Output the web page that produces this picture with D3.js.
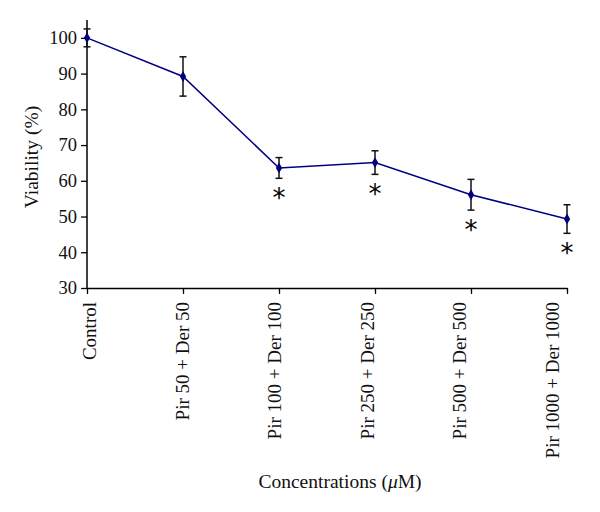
<!DOCTYPE html>
<html><head><meta charset="utf-8">
<script src="https://cdn.jsdelivr.net/npm/d3@7"></script>
<style>body{margin:0;background:#fff}svg{display:block}</style>
</head><body>
<script>
const categories = ["Control","Pir 50 + Der 50","Pir 100 + Der 100","Pir 250 + Der 250","Pir 500 + Der 500","Pir 1000 + Der 1000"];
const viability = [100, 89.2, 63.6, 65.1, 56.1, 49.3];
const errors = [2.5, 5.5, 2.9, 3.3, 4.3, 4.0];
const significant = [false, false, true, true, true, true];
const yTicks = [30,40,50,60,70,80,90,100];

const W=600,H=512;
const svg=d3.select("body").append("svg").attr("width",W).attr("height",H);
const font="'Liberation Serif', 'DejaVu Serif', serif";
const x=d3.scalePoint().domain(categories).range([87,567]);
const xLab=d3.scalePoint().domain(categories).range([89.5,552.5]);
const y=d3.scaleLinear().domain([30,105]).range([288,20]);

const yAxis=svg.append("g").attr("transform","translate(87,0)")
  .call(d3.axisLeft(y).tickValues(yTicks).tickSize(6).tickSizeOuter(0).tickPadding(4));
const xAxis=svg.append("g").attr("transform","translate(0,288)")
  .call(d3.axisBottom(x).tickSize(6).tickSizeOuter(0).tickFormat(""));
[yAxis,xAxis].forEach(g=>{g.select(".domain").attr("stroke","#000").attr("stroke-width",1.5);
  g.selectAll(".tick line").attr("stroke","#000").attr("stroke-width",1.3);});
yAxis.select(".domain").attr("d","M0,"+y(105)+"V"+y(30));
yAxis.selectAll("text").attr("font-family",font).attr("font-size",18.5).attr("fill","#111");

// x labels rotated
svg.append("g").selectAll("text").data(categories).join("text")
  .attr("transform",d=>`translate(${xLab(d)+6.5},302) rotate(-90)`)
  .attr("text-anchor","end").attr("font-family",font).attr("font-size",19).attr("fill","#111")
  .text(d=>d);

// line
svg.append("path").datum(viability.map((v,i)=>[categories[i],v]))
  .attr("fill","none").attr("stroke","#00007f").attr("stroke-width",1.5)
  .attr("d",d3.line().x(d=>x(d[0])).y(d=>y(d[1])));

// error bars
const eb=svg.append("g").attr("stroke","#111").attr("stroke-width",1.5);
categories.forEach((c,i)=>{
  const cx=x(c),t=y(viability[i]+errors[i]),b=y(viability[i]-errors[i]);
  eb.append("line").attr("x1",cx).attr("x2",cx).attr("y1",t).attr("y2",b);
  eb.append("line").attr("x1",cx-3.5).attr("x2",cx+3.5).attr("y1",t).attr("y2",t);
  eb.append("line").attr("x1",cx-3.5).attr("x2",cx+3.5).attr("y1",b).attr("y2",b);
});

// markers
svg.append("g").selectAll("path").data(categories).join("path")
  .attr("transform",(c,i)=>`translate(${x(c)},${y(viability[i])})`)
  .attr("d",d3.symbol(d3.symbolDiamond,34)).attr("fill","#00007f");

// asterisks
svg.append("g").selectAll("text").data(categories.filter((c,i)=>significant[i])).join("text")
  .attr("x",c=>x(c)).attr("y",c=>{const i=categories.indexOf(c);return y(viability[i]-errors[i])+29;})
  .attr("text-anchor","middle").attr("font-family","'DejaVu Sans', sans-serif").attr("font-size",26).attr("fill","#000")
  .text("*");

// titles
svg.append("text").attr("x",340).attr("y",488).attr("text-anchor","middle")
  .attr("font-family",font).attr("font-size",19.5).attr("fill","#111")
  .html('Concentrations (<tspan font-style="italic">μ</tspan>M)');
svg.append("text").attr("transform","translate(38,157) rotate(-90)").attr("text-anchor","middle")
  .attr("font-family",font).attr("font-size",19.5).attr("fill","#111").text("Viability (%)");
</script>
</body></html>
